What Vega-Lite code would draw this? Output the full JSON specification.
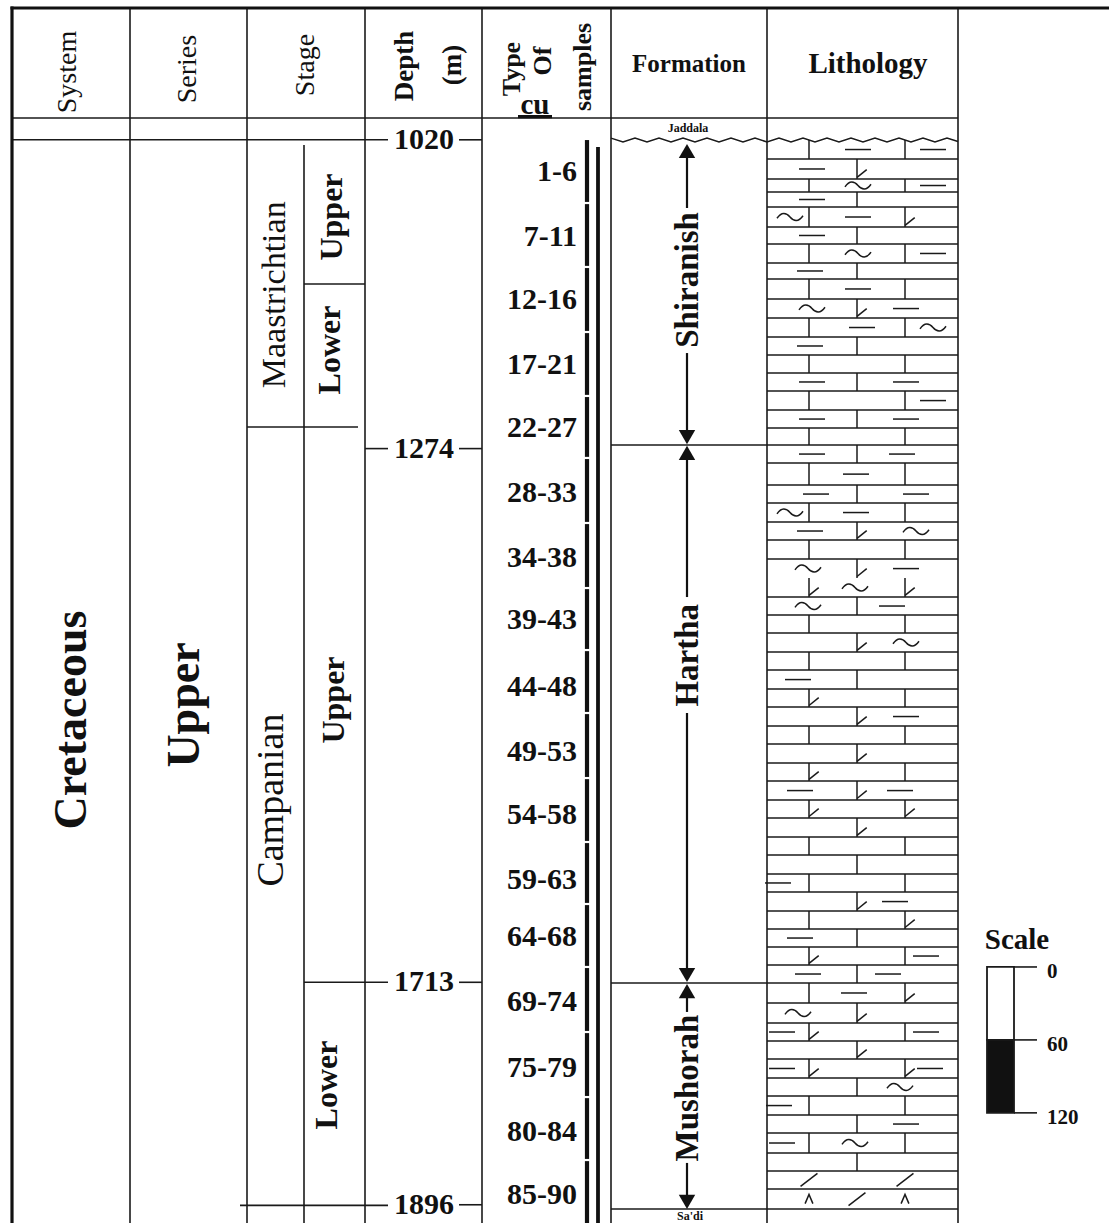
{
  "$schema": "https://vega.github.io/schema/vega-lite/v6.json",
  "width": 1109,
  "height": 1223,
  "autosize": {"type": "none"},
  "padding": 0,
  "background": "white",
  "config": {"view": {"stroke": null}},
  "resolve": {"scale": {"shape": "independent", "fill": "independent"}},
  "datasets": {
    "lines": [
      {"x": 130, "x2": 130, "d": 911.6, "d2": 1911},
      {"x": 247, "x2": 247, "d": 911.6, "d2": 1911},
      {"x": 365, "x2": 365, "d": 911.6, "d2": 1911},
      {"x": 482, "x2": 482, "d": 911.6, "d2": 1911},
      {"x": 611, "x2": 611, "d": 911.6, "d2": 1911},
      {"x": 767, "x2": 767, "d": 911.6, "d2": 1911},
      {"x": 958, "x2": 958, "d": 911.6, "d2": 1911},
      {"x": 304, "x2": 304, "d": 1024.3, "d2": 1911},
      {"x": 12, "x2": 958, "d": 1002.1, "d2": 1002.1},
      {"x": 12, "x2": 388, "d": 1020, "d2": 1020},
      {"x": 459, "x2": 482, "d": 1020, "d2": 1020},
      {"x": 304, "x2": 365, "d": 1138.6, "d2": 1138.6},
      {"x": 247, "x2": 358, "d": 1256.2, "d2": 1256.2},
      {"x": 365, "x2": 388, "d": 1274, "d2": 1274},
      {"x": 459, "x2": 482, "d": 1274, "d2": 1274},
      {"x": 611, "x2": 958, "d": 1271, "d2": 1271},
      {"x": 304, "x2": 388, "d": 1713, "d2": 1713},
      {"x": 459, "x2": 482, "d": 1713, "d2": 1713},
      {"x": 611, "x2": 958, "d": 1713.6, "d2": 1713.6},
      {"x": 240, "x2": 388, "d": 1896.5, "d2": 1896.5},
      {"x": 459, "x2": 482, "d": 1896, "d2": 1896},
      {"x": 611, "x2": 958, "d": 1899.5, "d2": 1899.5},
      {"x": 1014, "x2": 1037, "d": 1700.4, "d2": 1700.4},
      {"x": 1014, "x2": 1037, "d": 1760.4, "d2": 1760.4},
      {"x": 1014, "x2": 1037, "d": 1820.4, "d2": 1820.4}
    ],
    "heavy": [
      {"x": 12, "x2": 12, "d": 910.4, "d2": 1911},
      {"x": 10.5, "x2": 1109, "d": 911.6, "d2": 911.6},
      {"x": 518, "x2": 552, "d": 1001.0, "d2": 1001.0}
    ],
    "bar": [
      {"part": "0-60 m", "x": 987, "x2": 1014, "d": 1700.4, "d2": 1760.4},
      {"part": "60-120 m", "x": 987, "x2": 1014, "d": 1760.4, "d2": 1820.4}
    ],
    "beds": [
      {"d": 1035.8}, {"d": 1052.2}, {"d": 1062.9}, {"d": 1075.3}, {"d": 1091.7}, {"d": 1105.7},
      {"d": 1121.3}, {"d": 1134.5}, {"d": 1150.9}, {"d": 1166.6}, {"d": 1182.2}, {"d": 1197.0},
      {"d": 1211.8}, {"d": 1226.6}, {"d": 1242.3}, {"d": 1257.1},
      {"d": 1285.9}, {"d": 1304.0}, {"d": 1318.8}, {"d": 1334.4}, {"d": 1349.2}, {"d": 1364.8},
      {"d": 1396.1}, {"d": 1410.9}, {"d": 1425.7}, {"d": 1441.3}, {"d": 1456.1}, {"d": 1471.8},
      {"d": 1486.6}, {"d": 1502.2}, {"d": 1517.0}, {"d": 1532.6}, {"d": 1547.4}, {"d": 1563.1},
      {"d": 1577.9}, {"d": 1593.5}, {"d": 1608.3}, {"d": 1623.9}, {"d": 1638.7}, {"d": 1654.4},
      {"d": 1669.2}, {"d": 1684.0}, {"d": 1698.8},
      {"d": 1730.0}, {"d": 1746.5}, {"d": 1761.3}, {"d": 1776.1}, {"d": 1791.7}, {"d": 1806.5},
      {"d": 1822.2}, {"d": 1837.0}, {"d": 1853.4}, {"d": 1868.2}, {"d": 1883.0}
    ],
    "lith": [
      {"d": 1020.2, "d2": 1035.8, "j": [809, 905]},
      {"d": 1035.8, "d2": 1052.2, "j": [857]},
      {"d": 1052.2, "d2": 1062.9, "j": [809, 905]},
      {"d": 1062.9, "d2": 1075.3, "j": [857]},
      {"d": 1075.3, "d2": 1091.7, "j": [809, 905]},
      {"d": 1091.7, "d2": 1105.7, "j": [857]},
      {"d": 1105.7, "d2": 1121.3, "j": [809, 905]},
      {"d": 1121.3, "d2": 1134.5, "j": [857]},
      {"d": 1134.5, "d2": 1150.9, "j": [809, 905]},
      {"d": 1150.9, "d2": 1166.6, "j": [857]},
      {"d": 1166.6, "d2": 1182.2, "j": [809, 905]},
      {"d": 1182.2, "d2": 1197.0, "j": [857]},
      {"d": 1197.0, "d2": 1211.8, "j": [809, 905]},
      {"d": 1211.8, "d2": 1226.6, "j": [857]},
      {"d": 1226.6, "d2": 1242.3, "j": [809, 905]},
      {"d": 1242.3, "d2": 1257.1, "j": [857]},
      {"d": 1257.1, "d2": 1271.0, "j": [809, 905]},
      {"d": 1271.0, "d2": 1285.9, "j": [857]},
      {"d": 1285.9, "d2": 1304.0, "j": [809, 905]},
      {"d": 1304.0, "d2": 1318.8, "j": [857]},
      {"d": 1318.8, "d2": 1334.4, "j": [809, 905]},
      {"d": 1334.4, "d2": 1349.2, "j": [857]},
      {"d": 1349.2, "d2": 1364.8, "j": [809, 905]},
      {"d": 1364.8, "d2": 1380.5, "j": [857]},
      {"d": 1380.5, "d2": 1396.1, "j": [809, 905]},
      {"d": 1396.1, "d2": 1410.9, "j": [857]},
      {"d": 1410.9, "d2": 1425.7, "j": [809, 905]},
      {"d": 1425.7, "d2": 1441.3, "j": [857]},
      {"d": 1441.3, "d2": 1456.1, "j": [809, 905]},
      {"d": 1456.1, "d2": 1471.8, "j": [857]},
      {"d": 1471.8, "d2": 1486.6, "j": [809, 905]},
      {"d": 1486.6, "d2": 1502.2, "j": [857]},
      {"d": 1502.2, "d2": 1517.0, "j": [809, 905]},
      {"d": 1517.0, "d2": 1532.6, "j": [857]},
      {"d": 1532.6, "d2": 1547.4, "j": [809, 905]},
      {"d": 1547.4, "d2": 1563.1, "j": [857]},
      {"d": 1563.1, "d2": 1577.9, "j": [809, 905]},
      {"d": 1577.9, "d2": 1593.5, "j": [857]},
      {"d": 1593.5, "d2": 1608.3, "j": [809, 905]},
      {"d": 1608.3, "d2": 1623.9, "j": [857]},
      {"d": 1623.9, "d2": 1638.7, "j": [809, 905]},
      {"d": 1638.7, "d2": 1654.4, "j": [857]},
      {"d": 1654.4, "d2": 1669.2, "j": [809, 905]},
      {"d": 1669.2, "d2": 1684.0, "j": [857]},
      {"d": 1684.0, "d2": 1698.8, "j": [809, 905]},
      {"d": 1698.8, "d2": 1713.6, "j": [857]},
      {"d": 1713.6, "d2": 1730.0, "j": [809, 905]},
      {"d": 1730.0, "d2": 1746.5, "j": [857]},
      {"d": 1746.5, "d2": 1761.3, "j": [809, 905]},
      {"d": 1761.3, "d2": 1776.1, "j": [857]},
      {"d": 1776.1, "d2": 1791.7, "j": [809, 905]},
      {"d": 1791.7, "d2": 1806.5, "j": [857]},
      {"d": 1806.5, "d2": 1822.2, "j": [809, 905]},
      {"d": 1822.2, "d2": 1837.0, "j": [857]},
      {"d": 1837.0, "d2": 1853.4, "j": [809, 905]},
      {"d": 1853.4, "d2": 1868.2, "j": [857]}
    ],
    "lsym": [
      {"s": "dash", "x": 858, "d": 1028.0}, {"s": "dash", "x": 933, "d": 1028.0},
      {"s": "dash", "x": 812, "d": 1044.0}, {"s": "foot", "x": 857, "d": 1050.9},
      {"s": "tilde", "x": 858, "d": 1057.6}, {"s": "dash", "x": 933, "d": 1057.6},
      {"s": "dash", "x": 812, "d": 1069.1},
      {"s": "tilde", "x": 790, "d": 1083.5}, {"s": "dash", "x": 858, "d": 1083.5}, {"s": "foot", "x": 905, "d": 1090.4},
      {"s": "dash", "x": 812, "d": 1098.7},
      {"s": "tilde", "x": 858, "d": 1113.5}, {"s": "dash", "x": 933, "d": 1113.5},
      {"s": "dash", "x": 810, "d": 1127.9},
      {"s": "dash", "x": 858, "d": 1142.7},
      {"s": "tilde", "x": 812, "d": 1158.8}, {"s": "foot", "x": 857, "d": 1165.3}, {"s": "dash", "x": 906, "d": 1158.8},
      {"s": "dash", "x": 862, "d": 1174.4}, {"s": "tilde", "x": 933, "d": 1174.4},
      {"s": "dash", "x": 810, "d": 1189.6},
      {"s": "dash", "x": 812, "d": 1219.2}, {"s": "dash", "x": 906, "d": 1219.2},
      {"s": "dash", "x": 933, "d": 1234.5},
      {"s": "dash", "x": 812, "d": 1249.7}, {"s": "dash", "x": 906, "d": 1249.7},
      {"s": "dash", "x": 812, "d": 1278.5}, {"s": "dash", "x": 902, "d": 1278.5},
      {"s": "dash", "x": 856, "d": 1295.0},
      {"s": "dash", "x": 816, "d": 1311.4}, {"s": "dash", "x": 916, "d": 1311.4},
      {"s": "tilde", "x": 790, "d": 1326.6}, {"s": "dash", "x": 856, "d": 1326.6},
      {"s": "dash", "x": 810, "d": 1341.8}, {"s": "foot", "x": 857, "d": 1347.9}, {"s": "tilde", "x": 916, "d": 1341.8},
      {"s": "tilde", "x": 808, "d": 1372.7}, {"s": "foot", "x": 857, "d": 1379.2}, {"s": "dash", "x": 906, "d": 1372.7},
      {"s": "foot", "x": 809, "d": 1394.8}, {"s": "tilde", "x": 855, "d": 1388.3}, {"s": "foot", "x": 905, "d": 1394.8},
      {"s": "tilde", "x": 808, "d": 1403.5}, {"s": "dash", "x": 892, "d": 1403.5},
      {"s": "foot", "x": 857, "d": 1440.0}, {"s": "tilde", "x": 906, "d": 1433.5},
      {"s": "dash", "x": 798, "d": 1464.0},
      {"s": "foot", "x": 809, "d": 1485.3},
      {"s": "foot", "x": 857, "d": 1500.9}, {"s": "dash", "x": 906, "d": 1494.4},
      {"s": "foot", "x": 857, "d": 1531.3},
      {"s": "foot", "x": 809, "d": 1546.1},
      {"s": "dash", "x": 800, "d": 1555.3}, {"s": "foot", "x": 857, "d": 1561.8}, {"s": "dash", "x": 900, "d": 1555.3},
      {"s": "foot", "x": 809, "d": 1576.6}, {"s": "foot", "x": 905, "d": 1576.6},
      {"s": "foot", "x": 857, "d": 1592.2},
      {"s": "dash", "x": 778, "d": 1631.3},
      {"s": "foot", "x": 857, "d": 1653.1}, {"s": "dash", "x": 895, "d": 1646.6},
      {"s": "foot", "x": 905, "d": 1667.9},
      {"s": "dash", "x": 800, "d": 1676.6},
      {"s": "foot", "x": 809, "d": 1697.5}, {"s": "dash", "x": 926, "d": 1691.4},
      {"s": "dash", "x": 808, "d": 1706.2}, {"s": "dash", "x": 888, "d": 1706.2},
      {"s": "dash", "x": 854, "d": 1721.8}, {"s": "foot", "x": 905, "d": 1728.7},
      {"s": "tilde", "x": 798, "d": 1738.3}, {"s": "foot", "x": 857, "d": 1745.2},
      {"s": "dash", "x": 782, "d": 1753.9}, {"s": "foot", "x": 809, "d": 1760.0}, {"s": "dash", "x": 926, "d": 1753.9},
      {"s": "foot", "x": 857, "d": 1774.8},
      {"s": "dash", "x": 782, "d": 1783.9}, {"s": "foot", "x": 809, "d": 1790.4}, {"s": "foot", "x": 905, "d": 1790.4}, {"s": "dash", "x": 930, "d": 1783.9},
      {"s": "tilde", "x": 900, "d": 1799.1},
      {"s": "dash", "x": 779, "d": 1814.4},
      {"s": "dash", "x": 906, "d": 1829.6},
      {"s": "dash", "x": 782, "d": 1845.2}, {"s": "tilde", "x": 855, "d": 1845.2},
      {"s": "slash", "x": 809, "d": 1875.6}, {"s": "slash", "x": 905, "d": 1875.6},
      {"s": "caret", "x": 809, "d": 1891.3}, {"s": "slash", "x": 857, "d": 1891.3}, {"s": "caret", "x": 905, "d": 1891.3}
    ],
    "wave": [
      {"x": 611, "d": 1018.6}, {"x": 623, "d": 1021.8}, {"x": 635, "d": 1018.6}, {"x": 647, "d": 1021.8},
      {"x": 659, "d": 1018.6}, {"x": 671, "d": 1021.8}, {"x": 683, "d": 1018.6}, {"x": 695, "d": 1021.8},
      {"x": 707, "d": 1018.6}, {"x": 719, "d": 1021.8}, {"x": 731, "d": 1018.6}, {"x": 743, "d": 1021.8},
      {"x": 755, "d": 1018.6}, {"x": 767, "d": 1021.8}, {"x": 779, "d": 1018.6}, {"x": 791, "d": 1021.8},
      {"x": 803, "d": 1018.6}, {"x": 815, "d": 1021.8}, {"x": 827, "d": 1018.6}, {"x": 839, "d": 1021.8},
      {"x": 851, "d": 1018.6}, {"x": 863, "d": 1021.8}, {"x": 875, "d": 1018.6}, {"x": 887, "d": 1021.8},
      {"x": 899, "d": 1018.6}, {"x": 911, "d": 1021.8}, {"x": 923, "d": 1018.6}, {"x": 935, "d": 1021.8},
      {"x": 947, "d": 1018.6}, {"x": 958, "d": 1021.4}
    ],
    "samples": [
      {"label": "1-6", "d": 1020.2, "d2": 1072.0, "m": 1046.5},
      {"label": "7-11", "d": 1072.0, "d2": 1124.6, "m": 1100.0},
      {"label": "12-16", "d": 1124.6, "d2": 1178.1, "m": 1151.8},
      {"label": "17-21", "d": 1178.1, "d2": 1230.7, "m": 1205.2},
      {"label": "22-27", "d": 1230.7, "d2": 1281.7, "m": 1257.1},
      {"label": "28-33", "d": 1281.7, "d2": 1335.2, "m": 1310.5},
      {"label": "34-38", "d": 1335.2, "d2": 1388.7, "m": 1364.0},
      {"label": "39-43", "d": 1388.7, "d2": 1439.7, "m": 1415.0},
      {"label": "44-48", "d": 1439.7, "d2": 1491.5, "m": 1470.1},
      {"label": "49-53", "d": 1491.5, "d2": 1545.0, "m": 1523.6},
      {"label": "54-58", "d": 1545.0, "d2": 1597.6, "m": 1575.4},
      {"label": "59-63", "d": 1597.6, "d2": 1648.6, "m": 1628.9},
      {"label": "64-68", "d": 1648.6, "d2": 1700.4, "m": 1675.7},
      {"label": "69-74", "d": 1700.4, "d2": 1753.9, "m": 1729.2},
      {"label": "75-79", "d": 1753.9, "d2": 1807.4, "m": 1783.5},
      {"label": "80-84", "d": 1807.4, "d2": 1859.2, "m": 1836.1},
      {"label": "85-90", "d": 1859.2, "d2": 1911.0, "m": 1888.0}
    ],
    "arrows": [
      {"d": 1029.2, "d2": 1076.1}, {"d": 1195.4, "d2": 1264.0},
      {"d": 1277.6, "d2": 1396.1}, {"d": 1491.5, "d2": 1707.0},
      {"d": 1720.2, "d2": 1737.4}, {"d": 1861.6, "d2": 1893.0}
    ],
    "heads": [
      {"dir": "up", "d": 1029.2}, {"dir": "down", "d": 1264.5},
      {"dir": "up", "d": 1277.6}, {"dir": "down", "d": 1707.0},
      {"dir": "up", "d": 1720.2}, {"dir": "down", "d": 1893.7}
    ],
    "depths": [
      {"v": "1020", "d": 1020}, {"v": "1274", "d": 1274},
      {"v": "1713", "d": 1713}, {"v": "1896", "d": 1896}
    ],
    "scaleLabels": [
      {"v": "0", "d": 1700.4}, {"v": "60", "d": 1760.4}, {"v": "120", "d": 1820.4}
    ],
    "labels": [
      {"role": "hdr", "t": "System", "x": 68, "d": 964.2},
      {"role": "hdr", "t": "Series", "x": 188, "d": 961.8},
      {"role": "hdr", "t": "Stage", "x": 306, "d": 958.5},
      {"role": "hdrb27", "t": "Depth", "x": 405, "d": 959.3},
      {"role": "hdrb27", "t": "(m)", "x": 453, "d": 958.5},
      {"role": "hdrb26", "t": "Type", "x": 512, "d": 961.8},
      {"role": "hdrb26", "t": "Of", "x": 543, "d": 955.2},
      {"role": "hdrb26", "t": "samples", "x": 583, "d": 960.1},
      {"role": "title25", "t": "Formation", "x": 689, "d": 957.6},
      {"role": "title29", "t": "Lithology", "x": 868, "d": 957.6},
      {"role": "title29", "t": "cu", "x": 535, "d": 991.2},
      {"role": "title29", "t": "Scale", "x": 1017, "d": 1678.2},
      {"role": "big", "t": "Cretaceous", "x": 72, "d": 1497.3},
      {"role": "big", "t": "Upper", "x": 185, "d": 1484.9},
      {"role": "stage", "t": "Maastrichtian", "x": 275, "d": 1147.5},
      {"role": "stage38", "t": "Campanian", "x": 272, "d": 1563.1},
      {"role": "sub", "t": "Upper", "x": 332, "d": 1083.5},
      {"role": "sub", "t": "Lower", "x": 330, "d": 1192.9},
      {"role": "sub", "t": "Upper", "x": 334, "d": 1480.8},
      {"role": "sub", "t": "Lower", "x": 327, "d": 1797.5},
      {"role": "fm", "t": "Shiranish", "x": 688, "d": 1135.3},
      {"role": "fm", "t": "Hartha", "x": 688, "d": 1444.0},
      {"role": "fm", "t": "Mushorah", "x": 688, "d": 1800.0},
      {"role": "small", "t": "Jaddala", "x": 688, "d": 1010.3},
      {"role": "small", "t": "Sa'di", "x": 690, "d": 1905.6}
    ]
  },
  "layer": [
    {
      "data": {"name": "bar"},
      "mark": {"type": "rect", "stroke": "#1a1a1a", "strokeWidth": 1.8},
      "encoding": {
        "x": {"field": "x", "type": "quantitative", "scale": {"domain": [0, 1109], "nice": false, "zero": false}, "axis": null},
        "x2": {"field": "x2"},
        "y": {"field": "d", "type": "quantitative", "scale": {"domain": [905, 1911], "nice": false, "zero": false, "reverse": true}, "axis": null},
        "y2": {"field": "d2"},
        "fill": {"field": "part", "type": "nominal", "scale": {"domain": ["0-60 m", "60-120 m"], "range": ["#ffffff", "#111111"]}, "legend": null}
      }
    },
    {
      "data": {"name": "lines"},
      "mark": {"type": "rule", "color": "#1a1a1a", "strokeWidth": 1.6},
      "encoding": {
        "x": {"field": "x", "type": "quantitative", "scale": {"domain": [0, 1109], "nice": false, "zero": false}, "axis": null},
        "x2": {"field": "x2"},
        "y": {"field": "d", "type": "quantitative", "scale": {"domain": [905, 1911], "nice": false, "zero": false, "reverse": true}, "axis": null},
        "y2": {"field": "d2"}
      }
    },
    {
      "data": {"name": "heavy"},
      "mark": {"type": "rule", "color": "#111111", "strokeWidth": 3.2},
      "encoding": {
        "x": {"field": "x", "type": "quantitative", "axis": null},
        "x2": {"field": "x2"},
        "y": {"field": "d", "type": "quantitative", "axis": null},
        "y2": {"field": "d2"}
      }
    },
    {
      "data": {"name": "beds"},
      "mark": {"type": "rule", "color": "#1a1a1a", "strokeWidth": 1.5},
      "encoding": {
        "x": {"datum": 767, "type": "quantitative", "axis": null},
        "x2": {"datum": 958},
        "y": {"field": "d", "type": "quantitative", "axis": null}
      }
    },
    {
      "data": {"name": "lith"},
      "transform": [{"flatten": ["j"]}],
      "mark": {"type": "rule", "color": "#1a1a1a", "strokeWidth": 1.5},
      "encoding": {
        "x": {"field": "j", "type": "quantitative", "axis": null},
        "y": {"field": "d", "type": "quantitative", "axis": null},
        "y2": {"field": "d2"}
      }
    },
    {
      "data": {"name": "wave"},
      "mark": {"type": "line", "color": "#1a1a1a", "strokeWidth": 1.5},
      "encoding": {
        "x": {"field": "x", "type": "quantitative", "axis": null},
        "y": {"field": "d", "type": "quantitative", "axis": null}
      }
    },
    {
      "data": {"name": "samples"},
      "mark": {"type": "rule", "color": "#111111", "strokeWidth": 4.2},
      "encoding": {
        "x": {"datum": 587, "type": "quantitative", "axis": null},
        "y": {"field": "d", "type": "quantitative", "axis": null},
        "y2": {"field": "d2"}
      }
    },
    {
      "data": {"name": "samples"},
      "transform": [{"filter": "datum.d > 1021"}],
      "mark": {"type": "rule", "color": "#ffffff", "strokeWidth": 2.2},
      "encoding": {
        "x": {"datum": 582, "type": "quantitative", "axis": null},
        "x2": {"datum": 593},
        "y": {"field": "d", "type": "quantitative", "axis": null}
      }
    },
    {
      "data": {"values": [{"d": 1025.9, "d2": 1911}]},
      "mark": {"type": "rule", "color": "#111111", "strokeWidth": 3.8},
      "encoding": {
        "x": {"datum": 598, "type": "quantitative", "axis": null},
        "y": {"field": "d", "type": "quantitative", "axis": null},
        "y2": {"field": "d2"}
      }
    },
    {
      "data": {"name": "arrows"},
      "mark": {"type": "rule", "color": "#111111", "strokeWidth": 2.2},
      "encoding": {
        "x": {"datum": 687, "type": "quantitative", "axis": null},
        "y": {"field": "d", "type": "quantitative", "axis": null},
        "y2": {"field": "d2"}
      }
    },
    {
      "data": {"name": "heads"},
      "mark": {"type": "point", "filled": true, "color": "#111111", "opacity": 1, "size": 270},
      "encoding": {
        "x": {"datum": 687, "type": "quantitative", "axis": null},
        "y": {"field": "d", "type": "quantitative", "axis": null},
        "shape": {"field": "dir", "type": "nominal", "scale": {"domain": ["up", "down"], "range": ["triangle-up", "triangle-down"]}, "legend": null}
      }
    },
    {
      "data": {"name": "lsym"},
      "mark": {"type": "point", "filled": false, "stroke": "#1a1a1a", "strokeWidth": 1.5, "opacity": 1, "size": 676},
      "encoding": {
        "x": {"field": "x", "type": "quantitative", "axis": null},
        "y": {"field": "d", "type": "quantitative", "axis": null},
        "shape": {"field": "s", "type": "nominal", "scale": {"domain": ["dash", "tilde", "foot", "slash", "caret"], "range": ["M-1,0L1,0", "M-1,0.1C-0.65,-0.4,-0.3,-0.35,0,0C0.3,0.35,0.65,0.4,1,-0.1", "M0,0L0.75,-0.6", "M-0.65,0.5L0.65,-0.5", "M-0.3,0.35L0,-0.35L0.3,0.35"]}, "legend": null}
      }
    },
    {
      "data": {"name": "samples"},
      "mark": {"type": "text", "align": "right", "baseline": "middle", "font": "Liberation Serif", "fontWeight": "bold", "fontSize": 30, "color": "#111111"},
      "encoding": {
        "x": {"datum": 577, "type": "quantitative", "axis": null},
        "y": {"field": "m", "type": "quantitative", "axis": null},
        "text": {"field": "label"}
      }
    },
    {
      "data": {"name": "depths"},
      "mark": {"type": "text", "align": "center", "baseline": "middle", "font": "Liberation Serif", "fontWeight": "bold", "fontSize": 30, "color": "#111111"},
      "encoding": {
        "x": {"datum": 424, "type": "quantitative", "axis": null},
        "y": {"field": "d", "type": "quantitative", "axis": null},
        "text": {"field": "v"}
      }
    },
    {
      "data": {"name": "scaleLabels"},
      "mark": {"type": "text", "align": "left", "baseline": "middle", "dy": 5, "font": "Liberation Serif", "fontWeight": "bold", "fontSize": 21, "color": "#111111"},
      "encoding": {
        "x": {"datum": 1047, "type": "quantitative", "axis": null},
        "y": {"field": "d", "type": "quantitative", "axis": null},
        "text": {"field": "v"}
      }
    },
    {
      "data": {"name": "labels"},
      "transform": [{"filter": "datum.role === 'hdr'"}],
      "mark": {"type": "text", "angle": 270, "align": "center", "baseline": "middle", "font": "Liberation Serif", "fontSize": 28, "color": "#111111"},
      "encoding": {
        "x": {"field": "x", "type": "quantitative", "axis": null},
        "y": {"field": "d", "type": "quantitative", "axis": null},
        "text": {"field": "t"}
      }
    },
    {
      "data": {"name": "labels"},
      "transform": [{"filter": "datum.role === 'hdrb27'"}],
      "mark": {"type": "text", "angle": 270, "align": "center", "baseline": "middle", "font": "Liberation Serif", "fontWeight": "bold", "fontSize": 27, "color": "#111111"},
      "encoding": {
        "x": {"field": "x", "type": "quantitative", "axis": null},
        "y": {"field": "d", "type": "quantitative", "axis": null},
        "text": {"field": "t"}
      }
    },
    {
      "data": {"name": "labels"},
      "transform": [{"filter": "datum.role === 'hdrb26'"}],
      "mark": {"type": "text", "angle": 270, "align": "center", "baseline": "middle", "font": "Liberation Serif", "fontWeight": "bold", "fontSize": 26, "color": "#111111"},
      "encoding": {
        "x": {"field": "x", "type": "quantitative", "axis": null},
        "y": {"field": "d", "type": "quantitative", "axis": null},
        "text": {"field": "t"}
      }
    },
    {
      "data": {"name": "labels"},
      "transform": [{"filter": "datum.role === 'title25'"}],
      "mark": {"type": "text", "align": "center", "baseline": "middle", "font": "Liberation Serif", "fontWeight": "bold", "fontSize": 25, "color": "#111111"},
      "encoding": {
        "x": {"field": "x", "type": "quantitative", "axis": null},
        "y": {"field": "d", "type": "quantitative", "axis": null},
        "text": {"field": "t"}
      }
    },
    {
      "data": {"name": "labels"},
      "transform": [{"filter": "datum.role === 'title29'"}],
      "mark": {"type": "text", "align": "center", "baseline": "middle", "font": "Liberation Serif", "fontWeight": "bold", "fontSize": 29, "color": "#111111"},
      "encoding": {
        "x": {"field": "x", "type": "quantitative", "axis": null},
        "y": {"field": "d", "type": "quantitative", "axis": null},
        "text": {"field": "t"}
      }
    },
    {
      "data": {"name": "labels"},
      "transform": [{"filter": "datum.role === 'big'"}],
      "mark": {"type": "text", "angle": 270, "align": "center", "baseline": "middle", "font": "Liberation Serif", "fontWeight": "bold", "fontSize": 46, "color": "#111111"},
      "encoding": {
        "x": {"field": "x", "type": "quantitative", "axis": null},
        "y": {"field": "d", "type": "quantitative", "axis": null},
        "text": {"field": "t"}
      }
    },
    {
      "data": {"name": "labels"},
      "transform": [{"filter": "datum.role === 'stage'"}],
      "mark": {"type": "text", "angle": 270, "align": "center", "baseline": "middle", "font": "Liberation Serif", "fontSize": 34, "color": "#111111"},
      "encoding": {
        "x": {"field": "x", "type": "quantitative", "axis": null},
        "y": {"field": "d", "type": "quantitative", "axis": null},
        "text": {"field": "t"}
      }
    },
    {
      "data": {"name": "labels"},
      "transform": [{"filter": "datum.role === 'stage38'"}],
      "mark": {"type": "text", "angle": 270, "align": "center", "baseline": "middle", "font": "Liberation Serif", "fontSize": 38, "color": "#111111"},
      "encoding": {
        "x": {"field": "x", "type": "quantitative", "axis": null},
        "y": {"field": "d", "type": "quantitative", "axis": null},
        "text": {"field": "t"}
      }
    },
    {
      "data": {"name": "labels"},
      "transform": [{"filter": "datum.role === 'sub'"}],
      "mark": {"type": "text", "angle": 270, "align": "center", "baseline": "middle", "font": "Liberation Serif", "fontWeight": "bold", "fontSize": 32, "color": "#111111"},
      "encoding": {
        "x": {"field": "x", "type": "quantitative", "axis": null},
        "y": {"field": "d", "type": "quantitative", "axis": null},
        "text": {"field": "t"}
      }
    },
    {
      "data": {"name": "labels"},
      "transform": [{"filter": "datum.role === 'fm'"}],
      "mark": {"type": "text", "angle": 270, "align": "center", "baseline": "middle", "font": "Liberation Serif", "fontWeight": "bold", "fontSize": 33, "color": "#111111"},
      "encoding": {
        "x": {"field": "x", "type": "quantitative", "axis": null},
        "y": {"field": "d", "type": "quantitative", "axis": null},
        "text": {"field": "t"}
      }
    },
    {
      "data": {"name": "labels"},
      "transform": [{"filter": "datum.role === 'small'"}],
      "mark": {"type": "text", "align": "center", "baseline": "middle", "font": "Liberation Serif", "fontWeight": "bold", "fontSize": 12, "color": "#111111"},
      "encoding": {
        "x": {"field": "x", "type": "quantitative", "axis": null},
        "y": {"field": "d", "type": "quantitative", "axis": null},
        "text": {"field": "t"}
      }
    }
  ]
}
